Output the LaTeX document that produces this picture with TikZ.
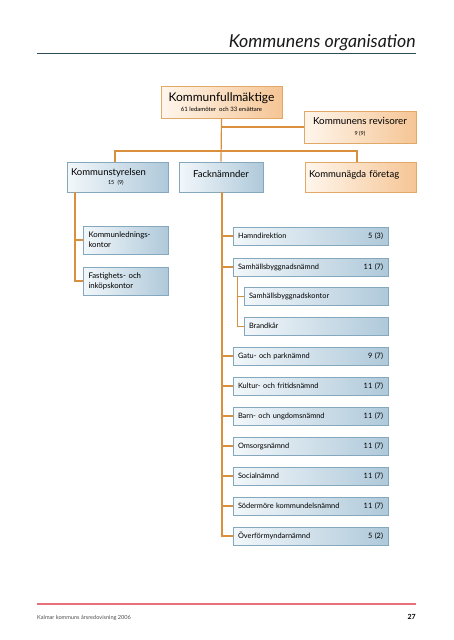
\documentclass[tikz,border=0pt]{standalone}
\usepackage{fontspec}
\setmainfont{Lato}
\usetikzlibrary{positioning}
\usepackage{xcolor}

\definecolor{orangelinje}{HTML}{D98F3C}
\definecolor{orangekant}{HTML}{E2A868}
\definecolor{orangeljus}{HTML}{FFF6EC}
\definecolor{orangemork}{HTML}{F5C595}
\definecolor{blakant}{HTML}{86A8BE}
\definecolor{blaljus}{HTML}{F2F7FA}
\definecolor{blamork}{HTML}{AFC9DA}
\definecolor{rubrikfarg}{HTML}{1A1A1A}
\definecolor{titellinjefarg}{HTML}{2E4B58}
\definecolor{fotlinjefarg}{HTML}{E8707C}

\tikzset{
  orangebox/.style={draw=orangekant, line width=0.6pt, left color=orangeljus, right color=orangemork, inner sep=0pt},
  blabox/.style={draw=blakant, line width=0.6pt, left color=blaljus, right color=blamork, inner sep=0pt},
  nivatva/.style={minimum height=30pt, font=\fontsize{9.5}{11}\selectfont},
  kontor/.style={blabox, minimum width=85pt, minimum height=28pt, inner xsep=5.5pt, text width=74pt, align=left, font=\fontsize{7.8}{10}\selectfont},
  namnd/.style={blabox, minimum width=155pt, minimum height=18pt, inner xsep=5pt, text width=145pt, font=\fontsize{7.4}{8}\selectfont},
  linje/.style={draw=orangelinje, line width=1.2pt},
  tunnlinje/.style={draw=orangelinje, line width=0.7pt}
}

\begin{document}
\begin{tikzpicture}[x=1pt,y=-1pt]
%\draw[help lines,step=10] (0,0) grid (453,640);
\useasboundingbox (0,0) rectangle (453,640);

% rubrik
\node[anchor=base east, inner sep=0pt, text=rubrikfarg, font=\fontsize{17.8}{21}\selectfont\itshape] (titel) at (416,47) {Kommunens organisation};
\draw[titellinjefarg, line width=0.9pt] (37,53) -- (416,53);

% fullmaktige och revisorer
\node[orangebox, minimum width=121pt, minimum height=32pt, align=center] (kf) at (221.5,102)
  {{\fontsize{12}{12}\selectfont Kommunfullmäktige}\\[-2pt]{\fontsize{6}{6}\selectfont 61 ledamöter\ \ och 33 ersättare}};
\node[orangebox, minimum width=112pt, minimum height=32pt, align=center] (rev) at (360,127)
  {{\fontsize{9.8}{10}\selectfont Kommunens revisorer}\\[-0.5pt]{\fontsize{5.5}{6}\selectfont 9 (9)}};

% andra nivan
\node[blabox, nivatva, minimum width=101pt, inner xsep=4pt, text width=93pt, align=left] (ks) at (117.5,177)
  {Kommunstyrelsen\\[-2.5pt]\hspace*{37pt}{\fontsize{5.5}{6}\selectfont 15 (9)}};
\node[blabox, nivatva, minimum width=84pt, text depth=6pt] (fn) at (221,177) {Facknämnder};
\node[orangebox, nivatva, minimum width=111pt, inner xsep=4pt, text width=103pt, align=left, text depth=6pt] (bolag) at (360.5,177) {Kommunägda företag};

% under kommunstyrelsen
\node[kontor] (kl) at (125.5,240) {Kommunlednings-\\kontor};
\node[kontor] (fi) at (125.5,281) {Fastighets- och\\inköpskontor};

% facknamnder
\node[namnd] (hamn) at (310.5,236) {Hamndirektion\hfill 5 (3)};
\node[namnd] (sbn) at (310.5,267) {Samhällsbyggnadsnämnd\hfill 11 (7)};
\node[namnd, minimum width=144pt, text width=134pt] (sbk) at (316,296.5) {Samhällsbyggnadskontor};
\node[namnd, minimum width=144pt, text width=134pt] (brand) at (316,326) {Brandkår};
\node[namnd] (gatu) at (310.5,356) {Gatu- och parknämnd\hfill 9 (7)};
\node[namnd] (kultur) at (310.5,386) {Kultur- och fritidsnämnd\hfill 11 (7)};
\node[namnd] (barn) at (310.5,416) {Barn- och ungdomsnämnd\hfill 11 (7)};
\node[namnd] (omsorg) at (310.5,446) {Omsorgsnämnd\hfill 11 (7)};
\node[namnd] (social) at (310.5,476) {Socialnämnd\hfill 11 (7)};
\node[namnd] (soder) at (310.5,506) {Södermöre kommundelsnämnd\hfill 11 (7)};
\node[namnd] (over) at (310.5,536) {Överförmyndarnämnd\hfill 5 (2)};

% linjer
\coordinate (buss) at (221.5,151);
\coordinate (ksben) at (75,192);
\coordinate (fnben) at (222,192);
\coordinate (sbnben) at (237,276);

\draw[linje] (kf.south) -- (fn.north);
\draw[linje] (kf.south |- rev.west) -- (rev.west);
\draw[linje] ([xshift=-2.5pt]ks.north) |- (buss) -| ([xshift=-3.5pt]bolag.north);

\draw[linje] (ksben) |- (fi.west);
\draw[linje] (ksben |- kl.west) -- (kl.west);

\draw[linje] (fnben) |- (over.west);
\foreach \n in {hamn,sbn,gatu,kultur,barn,omsorg,social,soder}
  \draw[linje] (fnben |- \n.west) -- (\n.west);

\draw[tunnlinje] (sbnben) |- (brand.west);
\draw[tunnlinje] (sbnben |- sbk.west) -- (sbk.west);

% sidfot
\draw[fotlinjefarg, line width=1.1pt] (37,604) -- (416,604);
\node[anchor=base west, inner sep=0pt, text=black!70, font=\fontsize{5.6}{6}\selectfont] (fot) at (37,619) {Kalmar kommuns årsredovisning 2006};
\node[anchor=base east, inner sep=0pt, font=\fontsize{7}{8}\selectfont\bfseries] (sida) at (416,619) {27};
\end{tikzpicture}
\end{document}
